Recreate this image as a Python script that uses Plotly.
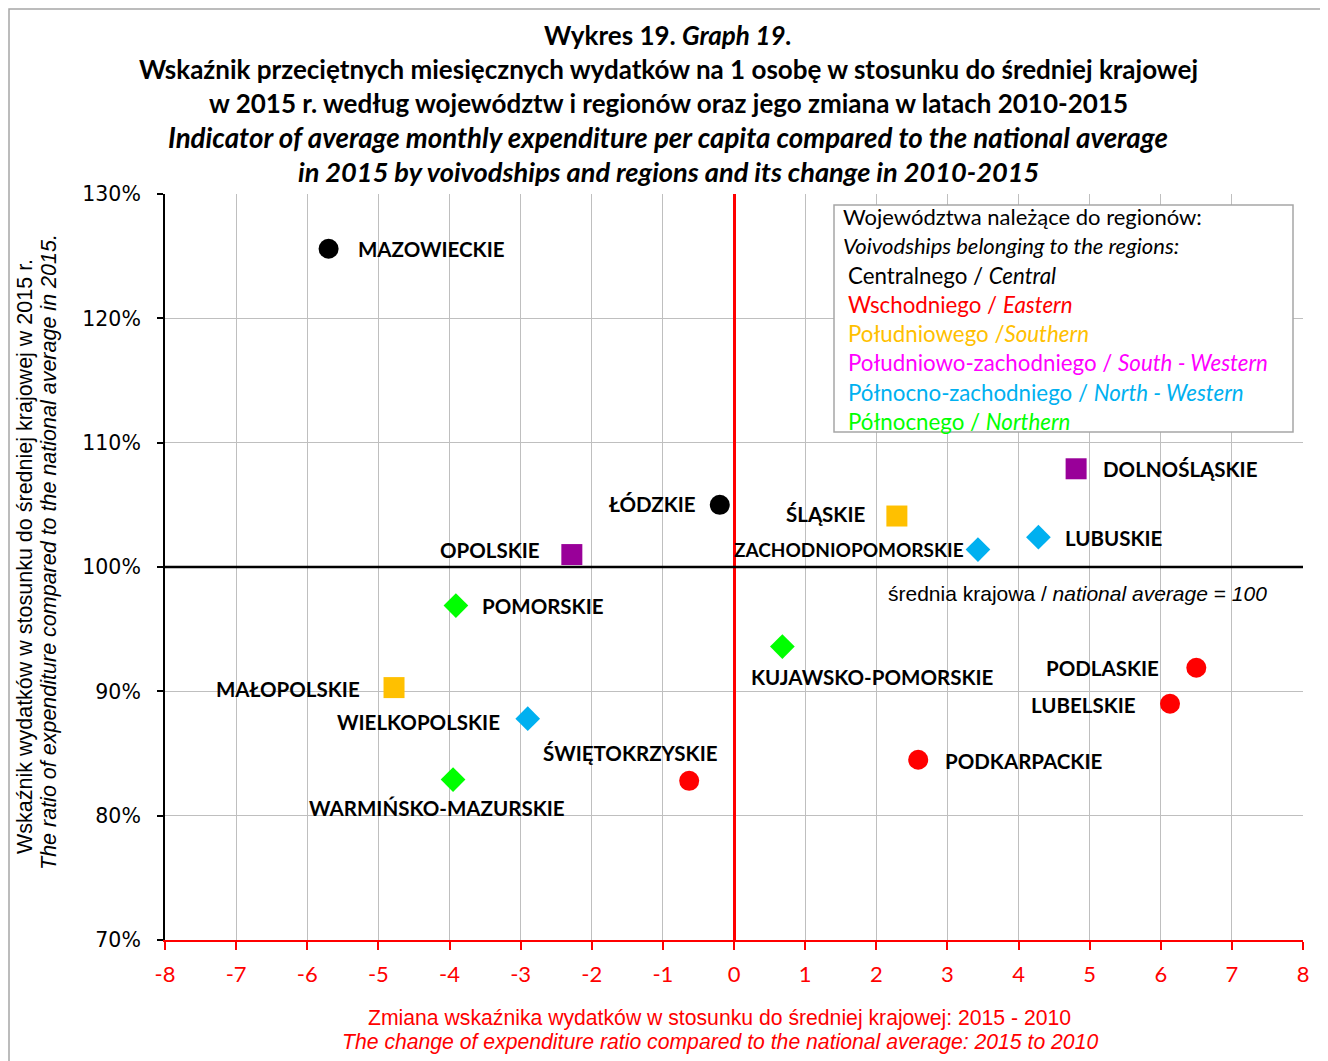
import plotly.graph_objects as go

# ---------------- data ----------------
names = ["MAZOWIECKIE", "ŁÓDZKIE", "OPOLSKIE", "ŚLĄSKIE", "ZACHODNIOPOMORSKIE",
         "LUBUSKIE", "DOLNOŚLĄSKIE", "POMORSKIE", "KUJAWSKO-POMORSKIE", "MAŁOPOLSKIE",
         "WIELKOPOLSKIE", "WARMIŃSKO-MAZURSKIE", "ŚWIĘTOKRZYSKIE", "PODKARPACKIE",
         "PODLASKIE", "LUBELSKIE"]
change = [-5.70, -0.20, -2.28, 2.29, 3.43, 4.28, 4.81, -3.91, 0.68, -4.78,
          -2.90, -3.95, -0.63, 2.59, 6.50, 6.13]
ratio = [125.6, 105.0, 101.0, 104.1, 101.4, 102.4, 107.9, 96.9, 93.6, 90.3,
         87.8, 82.9, 82.8, 84.5, 91.9, 89.0]
region = ["Central", "Central", "South-Western", "Southern", "North-Western",
          "North-Western", "South-Western", "Northern", "Northern", "Southern",
          "North-Western", "Northern", "Eastern", "Eastern", "Eastern", "Eastern"]

regions = ["Central", "Eastern", "Southern", "South-Western", "North-Western", "Northern"]
legend_lines = [
    ("Centralnego / <i>Central</i>", "#000000"),
    ("Wschodniego / <i>Eastern</i>", "#FF0000"),
    ("Południowego /<i>Southern</i>", "#FFC000"),
    ("Południowo-zachodniego / <i>South - Western</i>", "#FF00FF"),
    ("Północno-zachodniego / <i>North - Western</i>", "#00B0F0"),
    ("Północnego / <i>Northern</i>", "#00FF00"),
]
x_ticks = list(range(-8, 9))
y_ticks = [70, 80, 90, 100, 110, 120, 130]

# ---------------- styles ----------------
marker_style = {
    "Central": dict(symbol="circle", color="#000000", size=20),
    "Eastern": dict(symbol="circle", color="#FF0000", size=20),
    "Southern": dict(symbol="square", color="#FFC000", size=21),
    "South-Western": dict(symbol="square", color="#990099", size=21),
    "North-Western": dict(symbol="diamond", color="#00B0F0", size=19),
    "Northern": dict(symbol="diamond", color="#00FF00", size=19),
}
# label offsets (pixels) relative to the point: (xshift, yshift, xanchor, font size)
label_pos = {
    "MAZOWIECKIE": (27, 0, "left", 20.5),
    "ŁÓDZKIE": (-22, 1, "right", 20.5),
    "OPOLSKIE": (-30, 5, "right", 20.5),
    "ŚLĄSKIE": (-30, 2, "right", 20.5),
    "ZACHODNIOPOMORSKIE": (-12, 0, "right", 19),
    "LUBUSKIE": (25, -1, "left", 20.5),
    "DOLNOŚLĄSKIE": (25, 0, "left", 20.5),
    "POMORSKIE": (24, 0, "left", 20.5),
    "KUJAWSKO-POMORSKIE": (90, -30, "center", 20.5),
    "MAŁOPOLSKIE": (-32, -1, "right", 20.5),
    "WIELKOPOLSKIE": (-26, -3, "right", 20.5),
    "WARMIŃSKO-MAZURSKIE": (-16, -28, "center", 20.5),
    "ŚWIĘTOKRZYSKIE": (-59, 28, "center", 20.5),
    "PODKARPACKIE": (25, -1, "left", 20.5),
    "PODLASKIE": (-35, 0, "right", 20.5),
    "LUBELSKIE": (-32, -1, "right", 20.5),
}

OFF = 8  # page body margin
W, H = 1328 - OFF, 1061 - OFF
L, R, T, B = 165 - OFF, 1303 - OFF, 194 - OFF, 940 - OFF


def px(xp):
    return (xp - OFF - L) / (R - L)


def py(yp):
    return (B - (yp - OFF)) / (B - T)


fig = go.Figure()
for rg in regions:
    idx = [i for i, r in enumerate(region) if r == rg]
    st = marker_style[rg]
    fig.add_trace(go.Scatter(
        x=[change[i] for i in idx], y=[ratio[i] for i in idx], mode="markers",
        marker=dict(symbol=st["symbol"], color=st["color"], size=st["size"],
                    line=dict(width=0)),
        showlegend=False, hoverinfo="skip"))

annotations = []
for n, xv, yv in zip(names, change, ratio):
    dx, dy, anc, fs = label_pos[n]
    annotations.append(dict(x=xv, y=yv, xref="x", yref="y", text="<b>%s</b>" % n,
                            showarrow=False, xanchor=anc, yanchor="middle",
                            xshift=dx, yshift=dy,
                            font=dict(family="Lato", size=fs, color="#000000")))

# title lines
title_lines = [("<b>Wykres 19. <i>Graph 19.</i></b>", 26),
               ("<b>Wskaźnik przeciętnych miesięcznych wydatków na 1 osobę w stosunku do średniej krajowej</b>", 26),
               ("<b>w 2015 r. według województw i regionów oraz jego zmiana w latach 2010-2015</b>", 26),
               ("<b><i>Indicator of average monthly expenditure per capita compared to the national average</i></b>", 27.7),
               ("<b><i>in 2015 by voivodships and regions and its change in 2010-2015</i></b>", 27.2)]
for k, (t, fs) in enumerate(title_lines):
    annotations.append(dict(x=px(668), y=py(35 + 34 * k), xref="paper", yref="paper",
                            text=t, showarrow=False, xanchor="center", yanchor="middle",
                            font=dict(family="Lato", size=fs, color="#000000")))

# legend box text
legend_head = ["Województwa należące do regionów:",
               "<i>Voivodships belonging to the regions:</i>"]
for k, t in enumerate(legend_head):
    annotations.append(dict(x=px(841), y=py(216 + 29.4 * k), xref="paper", yref="paper",
                            text=t, showarrow=False, xanchor="left", yanchor="middle",
                            font=dict(family="Lato", size=22, color="#000000")))
for k, (t, c) in enumerate(legend_lines):
    annotations.append(dict(x=px(846), y=py(275 + 29.3 * k), xref="paper", yref="paper",
                            text=t, showarrow=False, xanchor="left", yanchor="middle",
                            font=dict(family="Lato", size=22.3, color=c)))

# national average note
annotations.append(dict(x=px(886), y=py(593), xref="paper", yref="paper",
                        text="średnia krajowa / <i>national average</i> = <i>100</i>",
                        showarrow=False, xanchor="left", yanchor="middle",
                        font=dict(family="Liberation Sans", size=21, color="#000000")))

# axis titles
annotations.append(dict(x=px(719), y=py(1018), xref="paper", yref="paper",
                        text="Zmiana wskaźnika wydatków w stosunku do średniej krajowej: 2015 - 2010",
                        showarrow=False, xanchor="center", yanchor="middle",
                        font=dict(family="Liberation Sans", size=21.2, color="#FF0000")))
annotations.append(dict(x=px(720), y=py(1042), xref="paper", yref="paper",
                        text="<i>The change of expenditure ratio compared to the national average: 2015 to 2010</i>",
                        showarrow=False, xanchor="center", yanchor="middle",
                        font=dict(family="Liberation Sans", size=21.2, color="#FF0000")))
annotations.append(dict(x=px(25), y=py(557), xref="paper", yref="paper",
                        text="Wskaźnik wydatków w stosunku do średniej krajowej w 2015 r.",
                        showarrow=False, xanchor="center", yanchor="middle", textangle=-90,
                        font=dict(family="Liberation Sans", size=21.5, color="#000000")))
annotations.append(dict(x=px(49), y=py(552), xref="paper", yref="paper",
                        text="<i>The ratio of expenditure compared to the national average in 2015.</i>",
                        showarrow=False, xanchor="center", yanchor="middle", textangle=-90,
                        font=dict(family="Liberation Sans", size=21.5, color="#000000")))

shapes = [
    # outer frame
    dict(type="rect", xref="paper", yref="paper", x0=px(9), x1=px(1345), y0=py(1075), y1=py(9),
         line=dict(color="#A6A6A6", width=1.5), fillcolor="rgba(0,0,0,0)", layer="below"),
    # national average line
    dict(type="line", xref="paper", yref="y", x0=0, x1=1, y0=100, y1=100,
         line=dict(color="#000000", width=2.5)),
    # legend box
    dict(type="rect", xref="paper", yref="paper", x0=px(834), x1=px(1293), y0=py(432), y1=py(205),
         line=dict(color="#A6A6A6", width=1.5), fillcolor="#FFFFFF"),
]

fig.update_layout(
    width=W, height=H,
    margin=dict(l=L, r=W - R, t=T, b=H - B),
    paper_bgcolor="#FFFFFF", plot_bgcolor="#FFFFFF",
    showlegend=False,
    annotations=annotations, shapes=shapes,
    xaxis=dict(range=[-8, 8], tickvals=x_ticks, ticktext=[str(v) for v in x_ticks],
               showgrid=True, gridcolor="#BFBFBF", gridwidth=1,
               zeroline=True, zerolinecolor="#FF0000", zerolinewidth=3,
               showline=True, linecolor="#FF0000", linewidth=2,
               ticks="outside", tickcolor="#FF0000", ticklen=8, tickwidth=2,
               ticklabelstandoff=6,
               tickfont=dict(family="Lato", size=22, color="#FF0000")),
    yaxis=dict(range=[70, 130], tickvals=y_ticks, ticktext=["%d%%" % v for v in y_ticks],
               showgrid=True, gridcolor="#BFBFBF", gridwidth=1, zeroline=False,
               showline=True, linecolor="#000000", linewidth=2,
               ticks="outside", tickcolor="#000000", ticklen=6, tickwidth=2,
               ticklabelstandoff=12,
               tickfont=dict(family="DejaVu Sans", size=20.5, color="#000000")),
)

fig.write_html("out.html")
